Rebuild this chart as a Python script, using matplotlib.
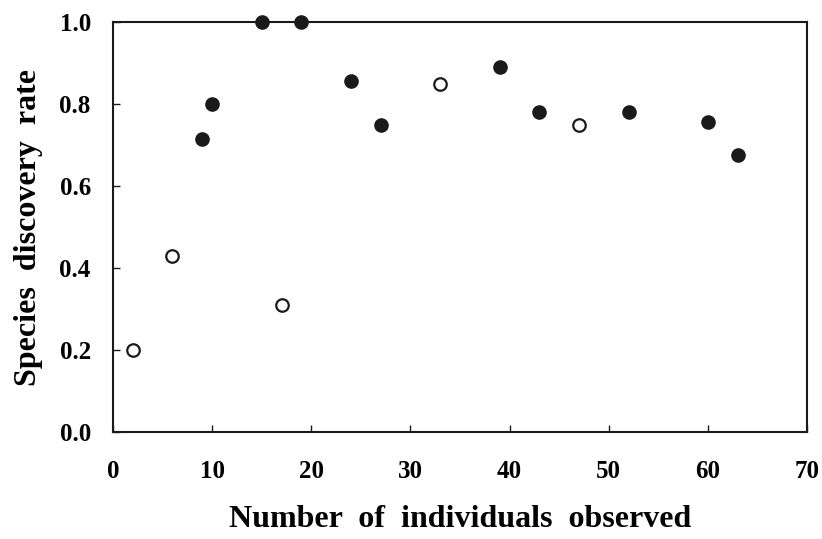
import matplotlib
matplotlib.use("Agg")
import matplotlib.pyplot as plt

# Data
open_x = [2, 6, 17, 33, 47]
open_y = [0.20, 0.43, 0.31, 0.85, 0.75]
filled_x = [9, 10, 15, 19, 24, 27, 39, 43, 52, 60, 63]
filled_y = [0.715, 0.80, 1.0, 1.0, 0.855, 0.75, 0.89, 0.78, 0.78, 0.755, 0.675]

x_ticks = [0, 10, 20, 30, 40, 50, 60, 70]
y_ticks = [0.0, 0.2, 0.4, 0.6, 0.8, 1.0]
y_tick_labels = ["0.0", "0.2", "0.4", "0.6", "0.8", "1.0"]

plt.rcParams['font.family'] = ['Liberation Serif', 'DejaVu Serif']
plt.rcParams['font.weight'] = 'bold'

fig = plt.figure(figsize=(8.22, 5.39), dpi=100)
ax = fig.add_axes([113/822, 1 - 432/539, (807-113)/822, (432-22)/539])

ax.plot(filled_x, filled_y, linestyle='none', marker='o', markersize=9.5,
        markerfacecolor='#1a1a1a', markeredgecolor='#1a1a1a', clip_on=False, zorder=3)
ax.plot(open_x, open_y, linestyle='none', marker='o', markersize=9,
        markerfacecolor='white', markeredgecolor='#1a1a1a', markeredgewidth=1.6,
        clip_on=False, zorder=3)

ax.set_xlim(0, 70)
ax.set_ylim(0, 1.0)
ax.set_xticks(x_ticks)
ax.set_yticks(y_ticks)
ax.set_yticklabels(y_tick_labels)

for s in ax.spines.values():
    s.set_linewidth(1.5)
    s.set_color('#1a1a1a')

ax.tick_params(axis='both', direction='in', length=5, width=1.0, colors='#1a1a1a',
               labelsize=18, labelcolor='black')
ax.tick_params(axis='x', pad=20)
ax.tick_params(axis='y', pad=16)

ax.set_xlabel("Number  of  individuals  observed", fontsize=23, fontweight='bold')
ax.set_ylabel("Species  discovery  rate", fontsize=23, fontweight='bold')
ax.xaxis.set_label_coords(0.5, -(505-432)/410)
ax.yaxis.set_label_coords(-(113-43)/(807-113), 0.5)

fig.savefig("out.png", dpi=100)
